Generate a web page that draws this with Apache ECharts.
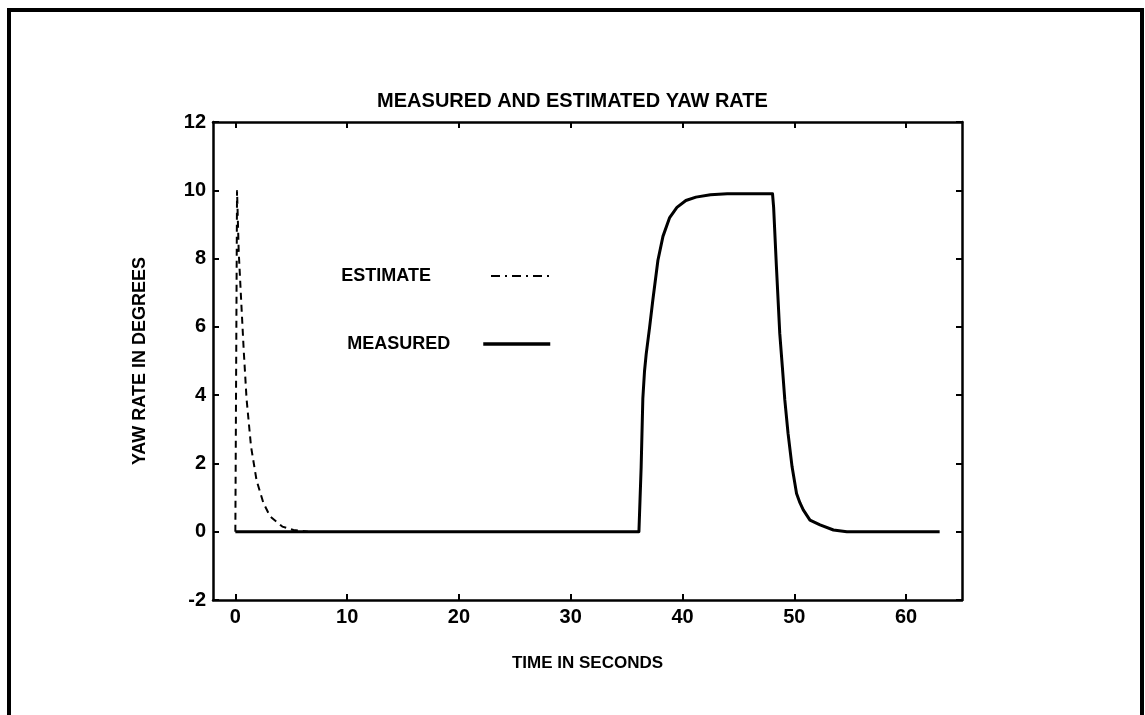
<!DOCTYPE html>
<html>
<head>
<meta charset="utf-8">
<script src="https://cdn.jsdelivr.net/npm/echarts@6/dist/echarts.min.js"></script>
<style>
  html, body { margin: 0; padding: 0; background: #fff; }
  #chart { width: 1145px; height: 715px; }
</style>
</head>
<body>
<div id="chart"></div>
<script>
// chart text
const titleText = 'MEASURED AND ESTIMATED YAW RATE';
const xName = 'TIME IN SECONDS';
const yName = 'YAW RATE IN DEGREES';

// tick labels
const xTicks = [0, 10, 20, 30, 40, 50, 60];
const yTicks = [-2, 0, 2, 4, 6, 8, 10, 12];

// measured yaw rate (solid)
const measuredTime = [0, 36.1, 36.2, 36.3, 36.45, 36.6, 36.75, 37.06, 37.35, 37.8, 38.25, 38.85, 39.5, 40.3, 41.2, 42.5, 44,
  48.05, 48.15, 48.4, 48.7, 48.93, 49.15, 49.44, 49.8, 50.2, 50.5, 50.8, 51.4, 52.3, 53.5, 54.7, 63];
const measuredRate = [0, 0, 0.95, 1.9, 3.9, 4.7, 5.2, 6.0, 6.8, 7.95, 8.65, 9.2, 9.5, 9.7, 9.8, 9.87, 9.9,
  9.9, 9.5, 7.76, 5.8, 4.83, 3.86, 2.88, 1.9, 1.12, 0.85, 0.64, 0.34, 0.2, 0.05, 0, 0];

// estimated yaw rate (dashed), initial transient
const estimateTime = [0, 0.15, 0.3, 0.5, 0.75, 1.0, 1.4, 1.9, 2.5, 3.1, 4.2, 5.2, 6.5];
const estimateRate = [0, 10, 8.2, 6.9, 5.3, 3.9, 2.5, 1.5, 0.85, 0.45, 0.15, 0.05, 0];

const pairs = (xs, ys) => xs.map((x, i) => [x, ys[i]]);

const font = "'Liberation Sans', Arial, sans-serif";
const axisLine = { show: true, onZero: false, lineStyle: { color: '#000', width: 2.5 } };
const tickStyle = { color: '#000', width: 2 };
const legendText = { fontFamily: font, fontSize: 18, fontWeight: 'bold', color: '#000' };

const chart = echarts.init(document.getElementById('chart'), null, { renderer: 'canvas' });

chart.setOption({
    backgroundColor: '#fff',
    animation: false,
    textStyle: { fontFamily: font },
    title: {
        text: titleText,
        left: 'center',
        top: 86,
        textStyle: { fontFamily: font, fontSize: 20, fontWeight: 'bold', color: '#000' }
    },
    grid: { left: 213, top: 122, right: 183, bottom: 115, containLabel: false },
    legend: [
        {
            data: [{ name: 'ESTIMATE', itemStyle: { opacity: 0 }, lineStyle: { type: [9, 5, 2, 5], width: 2, color: '#000' } }],
            right: 588,
            top: 262,
            align: 'right',
            itemWidth: 60,
            itemHeight: 14,
            textStyle: Object.assign({ padding: [0, 55, 0, 0] }, legendText)
        },
        {
            data: [{ name: 'MEASURED', itemStyle: { opacity: 0 }, lineStyle: { width: 3.5, color: '#000' } }],
            right: 588,
            top: 330,
            align: 'right',
            itemWidth: 67,
            itemHeight: 14,
            textStyle: Object.assign({ padding: [0, 28, 0, 0] }, legendText)
        }
    ],
    xAxis: [
        {
            type: 'value',
            position: 'bottom',
            min: -2,
            max: 65,
            axisLine: axisLine,
            axisTick: { show: true, inside: true, length: 6, customValues: xTicks, lineStyle: tickStyle },
            axisLabel: { customValues: xTicks, color: '#000', fontSize: 20, fontWeight: 'bold', margin: 7, fontFamily: font },
            splitLine: { show: false },
            name: xName,
            nameLocation: 'middle',
            nameGap: 55,
            nameTextStyle: { fontFamily: font, fontSize: 17, fontWeight: 'bold', color: '#000' }
        },
        {
            type: 'value',
            position: 'top',
            min: -2,
            max: 65,
            axisLine: axisLine,
            axisTick: { show: true, inside: true, length: 6, customValues: xTicks, lineStyle: tickStyle },
            axisLabel: { show: false },
            splitLine: { show: false }
        }
    ],
    yAxis: [
        {
            type: 'value',
            position: 'left',
            min: yTicks[0],
            max: yTicks[yTicks.length - 1],
            interval: 2,
            axisLine: axisLine,
            axisTick: { show: true, inside: true, length: 6, lineStyle: tickStyle },
            axisLabel: { color: '#000', fontSize: 20, fontWeight: 'bold', margin: 7, fontFamily: font },
            splitLine: { show: false },
            name: yName,
            nameLocation: 'middle',
            nameGap: 64,
            nameTextStyle: { fontFamily: font, fontSize: 18, fontWeight: 'bold', color: '#000' }
        },
        {
            type: 'value',
            position: 'right',
            min: yTicks[0],
            max: yTicks[yTicks.length - 1],
            interval: 2,
            axisLine: axisLine,
            axisTick: { show: true, inside: true, length: 6, lineStyle: tickStyle },
            axisLabel: { show: false },
            splitLine: { show: false }
        }
    ],
    series: [
        {
            name: 'ESTIMATE',
            type: 'line',
            xAxisIndex: 0,
            yAxisIndex: 0,
            data: pairs(estimateTime, estimateRate),
            symbol: 'none',
            itemStyle: { color: '#000' },
            lineStyle: { color: '#000', width: 2, type: [7, 5] },
            z: 3
        },
        {
            name: 'MEASURED',
            type: 'line',
            xAxisIndex: 0,
            yAxisIndex: 0,
            data: pairs(measuredTime, measuredRate),
            symbol: 'none',
            itemStyle: { color: '#000' },
            lineStyle: { color: '#000', width: 3, join: 'round' },
            z: 2
        }
    ],
    graphic: [
        {
            type: 'rect',
            silent: true,
            z: -1,
            shape: { x: 9, y: 10, width: 1133, height: 730 },
            style: { fill: 'none', stroke: '#000', lineWidth: 4 }
        }
    ]
});
</script>
</body>
</html>
